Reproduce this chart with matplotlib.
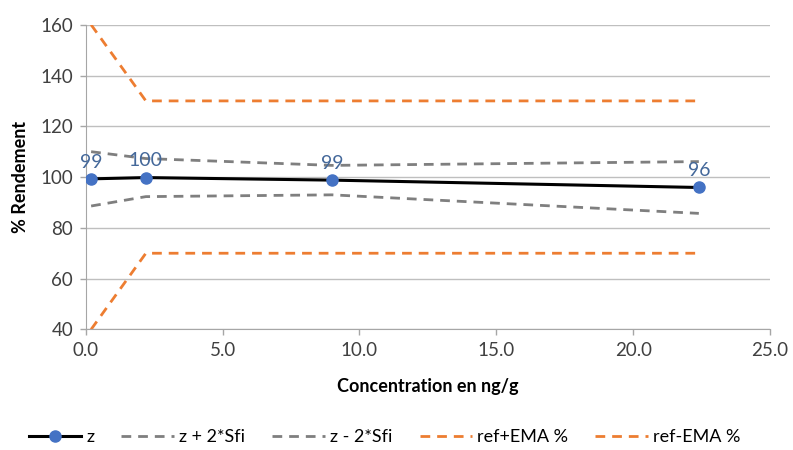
import numpy as np
import matplotlib.pyplot as plt

plt.rcParams['font.family'] = ['Lato', 'DejaVu Sans']

# values
conc = [0.2, 2.2, 9.0, 22.4]
z = [99.3, 99.8, 98.8, 95.9]
z_plus = [110.0, 107.3, 104.6, 106.1]
z_minus = [88.6, 92.3, 93.0, 85.7]
ref_plus = [160, 130, 130, 130]
ref_minus = [40, 70, 70, 70]
point_labels = ['99', '100', '99', '96']

fig = plt.figure(figsize=(7.93, 4.5), dpi=100)
ax = fig.add_axes([0.108, 0.268, 0.863, 0.677])

ax.plot(conc, z, color='black', lw=2.2, marker='o', ms=8,
        mfc='#4472C4', mec='#4472C4', label='z', zorder=5)
ax.plot(conc, z_plus, color='#7F7F7F', lw=2, ls=(0, (3.5, 2.5)), label='z + 2*Sfi')
ax.plot(conc, z_minus, color='#7F7F7F', lw=2, ls=(0, (3.5, 2.5)), label='z - 2*Sfi')
ax.plot(conc, ref_plus, color='#ED7D31', lw=2, ls=(0, (3.5, 2.5)), label='ref+EMA %')
ax.plot(conc, ref_minus, color='#ED7D31', lw=2, ls=(0, (3.5, 2.5)), label='ref-EMA %')

for x, y, t in zip(conc, z, point_labels):
    ax.annotate(t, (x, y), xytext=(0, 6), textcoords='offset points',
                ha='center', va='bottom', fontsize=14, color='#44689A')

ax.set_xlim(0, 25)
ax.set_ylim(40, 160)
ax.set_xticks(np.arange(0, 26, 5))
ax.set_xticklabels([f'{v:.1f}' for v in np.arange(0, 26, 5)])
ax.set_yticks(np.arange(40, 161, 20))
ax.tick_params(labelsize=13.5, colors='#A6A6A6', length=4, width=1, pad=5)
ax.tick_params(axis='both', labelcolor='#404040')
ax.grid(axis='y', color='#BFBFBF', lw=1)
ax.set_axisbelow(True)
for s in ['top', 'right']:
    ax.spines[s].set_visible(False)
for s in ['left', 'bottom']:
    ax.spines[s].set_color('#A6A6A6')

ax.set_xlabel('Concentration en ng/g', fontsize=13, fontweight='bold', labelpad=14)
ax.set_ylabel('% Rendement', fontsize=13, fontweight='bold', labelpad=8)

fig.legend(loc='center', bbox_to_anchor=(0.485, 0.028), ncol=5, frameon=False,
           fontsize=13, handlelength=2.9, columnspacing=1.5, handletextpad=0.3)

fig.savefig('out.png', dpi=100)
